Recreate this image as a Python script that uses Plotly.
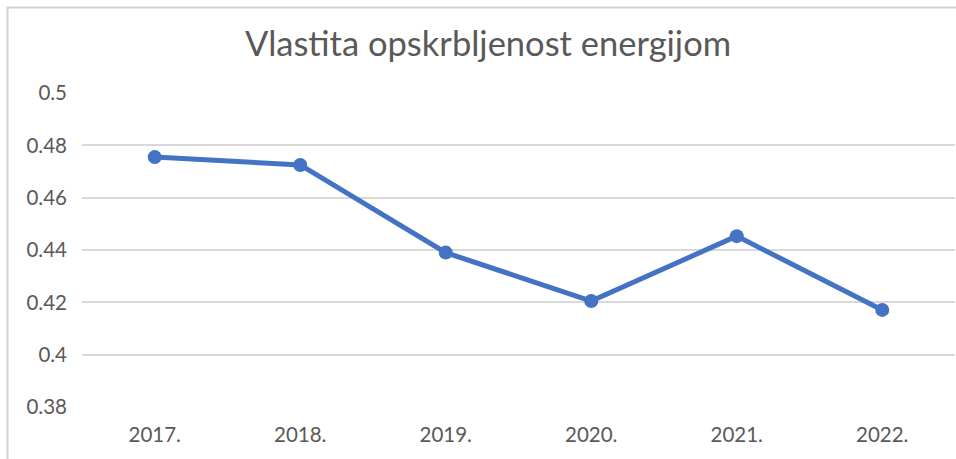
import plotly.graph_objects as go

years = ["2017.", "2018.", "2019.", "2020.", "2021.", "2022."]
values = [0.4755, 0.4725, 0.4390, 0.4205, 0.4453, 0.4171]
y_ticks = [0.38, 0.4, 0.42, 0.44, 0.46, 0.48, 0.5]
y_tick_labels = ["0.38", "0.4", "0.42", "0.44", "0.46", "0.48", "0.5"]
title_text = "Vlastita opskrbljenost energijom"

L, R, T, B = 82, 1, 93, 52
PW, PH = 956 - L - R, 459 - T - B

def px_x(p):
    return (p - L) / PW

def px_y(p):
    return 1 - (p - T) / PH

fig = go.Figure()
fig.add_trace(go.Scatter(
    x=years, y=values, mode="lines+markers",
    line=dict(color="#4472C4", width=5),
    marker=dict(color="#4472C4", size=14),
    showlegend=False,
))

border = dict(color="#D0D0D0", width=2)
fig.update_layout(
    width=956, height=459,
    margin=dict(l=L, r=R, t=T, b=B),
    paper_bgcolor="white", plot_bgcolor="white",
    font=dict(family="Lato", color="#595959", size=20),
    title=dict(text=title_text, x=488/956, xref="container", xanchor="center",
               y=1 - 44/459, yref="container", yanchor="middle",
               font=dict(size=34.5, color="#595959", family="Lato")),
    xaxis=dict(range=[-0.5, 5.5], showgrid=False, showline=False, ticks="",
               ticklabelstandoff=13,
               tickfont=dict(size=20.5, color="#595959"), fixedrange=True),
    yaxis=dict(range=[0.38, 0.5], tickvals=y_ticks, ticktext=y_tick_labels,
               showgrid=True, gridcolor="#D9D9D9", gridwidth=1.5, zeroline=False,
               showline=False, ticks="", ticklabelstandoff=14,
               tickfont=dict(size=20.5, color="#595959"), fixedrange=True),
    shapes=[
        dict(type="line", xref="paper", yref="paper",
             x0=px_x(7), x1=px_x(960), y0=px_y(7.5), y1=px_y(7.5),
             line=border, layer="above"),
        dict(type="line", xref="paper", yref="paper",
             x0=px_x(7.5), x1=px_x(7.5), y0=px_y(7), y1=px_y(470),
             line=border, layer="above"),
    ],
)

fig.write_html("out.html", config={"displayModeBar": False},
               post_script="document.body.style.margin='0';")
